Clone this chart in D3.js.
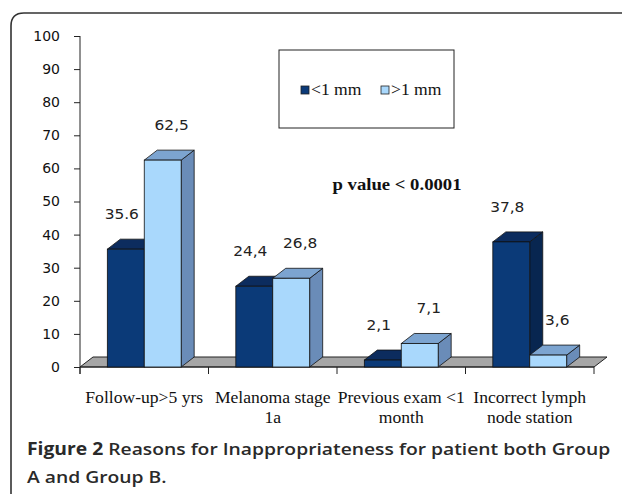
<!DOCTYPE html>
<html>
<head>
<meta charset="utf-8">
<script src="https://cdn.jsdelivr.net/npm/d3@7"></script>
<style>
  body { margin: 0; background: #fff; }
</style>
</head>
<body>
<svg id="chart" width="622" height="494"></svg>
<script>
const categories = [
  ['Follow-up>5 yrs'],
  ['Melanoma stage', '1a'],
  ['Previous exam <1', 'month'],
  ['Incorrect lymph', 'node station']
];
const seriesNames = ['<1 mm', '>1 mm'];
const lessThan1 = [35.6, 24.4, 2.1, 37.8];
const moreThan1 = [62.5, 26.8, 7.1, 3.6];
const labelsLess = ['35.6', '24,4', '2,1', '37,8'];
const labelsMore = ['62,5', '26,8', '7,1', '3,6'];
const yTicks = [0, 10, 20, 30, 40, 50, 60, 70, 80, 90, 100];

const colors = {
  '<1 mm': { front: '#0b3a78', top: '#0c2c5e', side: '#082650' },
  '>1 mm': { front: '#a9d8fc', top: '#7ca4d0', side: '#6a8cb8' }
};

const svg = d3.select('#chart');
const dx = 13, dy = 10;          // 3d depth offset
const stretch = 1.1;             // text in the picture is a bit wide

// frame
svg.append('path')
  .attr('d', 'M11,520 L11,26 Q11,13 24,13 L640,13')
  .attr('fill', 'none')
  .attr('stroke', '#333')
  .attr('stroke-width', 1.6);

const x0 = d3.scaleBand().domain(d3.range(categories.length)).range([80, 594]);
const x1 = d3.scaleBand().domain(seriesNames).range([0, x0.bandwidth()]).paddingOuter(0.74);
const y = d3.scaleLinear().domain([0, 100]).range([367, 36]);

const data = categories.map((c, i) => ({
  i,
  bars: [
    { s: '<1 mm', v: lessThan1[i], label: labelsLess[i] },
    { s: '>1 mm', v: moreThan1[i], label: labelsMore[i] }
  ]
}));

// floor
const y0 = y(0);
svg.append('path')
  .attr('d', `M${x0.range()[0]},${y0} L${x0.range()[0] + dx},${y0 - dy} L${x0.range()[1] + dx},${y0 - dy} L${x0.range()[1]},${y0} Z`)
  .attr('fill', '#a6a6a6')
  .attr('stroke', '#222')
  .attr('stroke-width', 1);

// y axis
const yAxis = svg.append('g')
  .attr('transform', 'translate(80,0)')
  .call(d3.axisLeft(y).tickValues(yTicks).tickSize(6).tickPadding(14));
yAxis.select('.domain').attr('stroke', '#222').attr('d', `M-0,${y(100)}V${y0 + 7}`);
yAxis.selectAll('.tick line').attr('stroke', '#222');
yAxis.selectAll('.tick text')
  .attr('font-family', 'DejaVu Sans, sans-serif')
  .attr('font-size', 14)
  .attr('fill', '#111');

// x axis line + ticks at category boundaries
svg.append('line')
  .attr('x1', x0.range()[0]).attr('x2', x0.range()[1])
  .attr('y1', y0).attr('y2', y0)
  .attr('stroke', '#222');
svg.selectAll('.xtick')
  .data(d3.range(categories.length + 1))
  .enter().append('line')
  .attr('x1', d => x0.range()[0] + d * x0.step())
  .attr('x2', d => x0.range()[0] + d * x0.step())
  .attr('y1', y0).attr('y2', y0 + 7)
  .attr('stroke', '#222');

// bars
const groups = svg.selectAll('.grp')
  .data(data)
  .enter().append('g')
  .attr('transform', d => `translate(${x0(d.i)},0)`);

const bar = groups.selectAll('.bar')
  .data(d => d.bars)
  .enter().append('g');

const w = x1.bandwidth();
bar.append('path') // side
  .attr('d', d => {
    const xa = x1(d.s) + w, yt = y(d.v);
    return `M${xa},${yt} L${xa + dx},${yt - dy} L${xa + dx},${y0 - dy} L${xa},${y0} Z`;
  })
  .attr('fill', d => colors[d.s].side)
  .attr('stroke', '#111').attr('stroke-width', 0.8);
bar.append('path') // top
  .attr('d', d => {
    const xa = x1(d.s), yt = y(d.v);
    return `M${xa},${yt} L${xa + dx},${yt - dy} L${xa + w + dx},${yt - dy} L${xa + w},${yt} Z`;
  })
  .attr('fill', d => colors[d.s].top)
  .attr('stroke', '#111').attr('stroke-width', 0.8);
bar.append('rect') // front
  .attr('x', d => x1(d.s))
  .attr('y', d => y(d.v))
  .attr('width', w)
  .attr('height', d => y0 - y(d.v))
  .attr('fill', d => colors[d.s].front)
  .attr('stroke', '#111').attr('stroke-width', 0.8);

// value labels
const labelDx = { '<1 mm': -4, '>1 mm': 9 };
groups.selectAll('.vlab')
  .data(d => d.bars)
  .enter().append('text')
  .attr('transform', d => `translate(${x1(d.s) + w / 2 + labelDx[d.s]},${y(d.v) - 30}) scale(${stretch},1)`)
  .attr('text-anchor', 'middle')
  .attr('font-family', 'DejaVu Sans, sans-serif')
  .attr('font-size', 14)
  .attr('fill', '#222')
  .text(d => d.label);

// category labels
const catText = svg.selectAll('.cat')
  .data(categories)
  .enter().append('text')
  .attr('transform', (d, i) => `translate(${x0(i) + x0.bandwidth() / 2},403) scale(${stretch},1)`)
  .attr('text-anchor', 'middle')
  .attr('font-family', 'Liberation Serif, serif')
  .attr('font-size', 16)
  .attr('fill', '#111');
catText.selectAll('tspan')
  .data(d => d)
  .enter().append('tspan')
  .attr('x', 0)
  .attr('dy', (d, i) => i === 0 ? 0 : 20)
  .text(d => d);

// legend
const legend = svg.append('g');
legend.append('rect')
  .attr('x', 279).attr('y', 50).attr('width', 175).attr('height', 78)
  .attr('fill', '#fff').attr('stroke', '#222').attr('stroke-width', 1);
const legItem = legend.selectAll('.li')
  .data(seriesNames)
  .enter().append('g')
  .attr('transform', (d, i) => `translate(${301 + i * 80},86)`);
legItem.append('rect')
  .attr('width', 8).attr('height', 8)
  .attr('fill', d => colors[d].front)
  .attr('stroke', '#222').attr('stroke-width', 0.8);
legItem.append('text')
  .attr('transform', `translate(10,9) scale(${stretch},1)`)
  .attr('font-family', 'Liberation Serif, serif')
  .attr('font-size', 16)
  .attr('fill', '#111')
  .text(d => d);

// p value annotation
svg.append('text')
  .attr('transform', `translate(397,190) scale(${stretch},1)`)
  .attr('text-anchor', 'middle')
  .attr('font-family', 'Liberation Serif, serif')
  .attr('font-weight', 'bold')
  .attr('font-size', 17)
  .attr('fill', '#111')
  .text('p value < 0.0001');

// caption
const capStretch = 1.135;
const cap = svg.append('text')
  .attr('transform', `translate(27,455) scale(${capStretch},1)`)
  .attr('font-family', 'Open Sans, sans-serif')
  .attr('font-size', 17)
  .attr('font-weight', 600)
  .attr('fill', '#2a2a2a');
cap.append('tspan').attr('font-weight', 700).text('Figure 2');
cap.append('tspan').text(' Reasons for Inappropriateness for patient both Group');
svg.append('text')
  .attr('transform', `translate(27,483) scale(${capStretch},1)`)
  .attr('font-family', 'Open Sans, sans-serif')
  .attr('font-size', 17)
  .attr('font-weight', 600)
  .attr('fill', '#2a2a2a')
  .text('A and Group B.');
</script>
</body>
</html>
